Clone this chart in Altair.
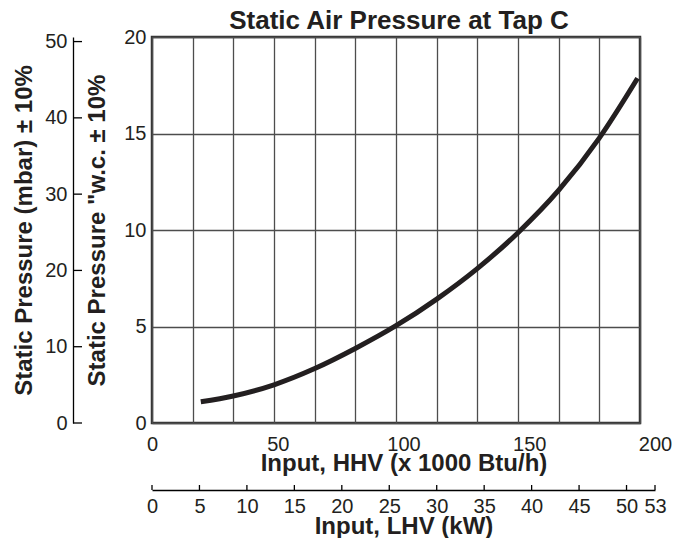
import altair as alt
import pandas as pd

# ---- data ----
hhv = [20, 33.3, 50, 66.7, 83.3, 100, 116.7, 133.3, 150, 166.7, 183.3, 199]
wc = [1.10, 1.40, 1.98, 2.82, 3.86, 5.04, 6.42, 8.00, 9.86, 12.06, 14.76, 17.86]

wc_ticks = [0, 5, 10, 15, 20]
mbar_ticks = [0, 10, 20, 30, 40, 50]
hhv_ticks = [0, 50, 100, 150, 200]
hhv_grid = [0, 16.67, 33.33, 50, 66.67, 83.33, 100, 116.67, 133.33, 150, 166.67, 183.33, 200]
lhv_ticks = [0, 5, 10, 15, 20, 25, 30, 35, 40, 45, 50, 53]

W, H = 488, 386
FONT = "Liberation Sans"
INK = "#231f20"

curve_df = pd.DataFrame({"hhv": hhv, "wc": wc})
mbar_df = pd.DataFrame({"mbar": mbar_ticks})
hhv_df = pd.DataFrame({"hhv_t": hhv_ticks})
lhv_df = pd.DataFrame({"kw": lhv_ticks})

line = alt.Chart(curve_df).mark_line(
    color=INK, strokeWidth=5, interpolate="monotone", strokeCap="butt"
).encode(
    x=alt.X("hhv:Q",
            scale=alt.Scale(domain=[0, 200], nice=False, zero=False),
            axis=alt.Axis(values=hhv_grid, grid=True, labels=False, ticks=False,
                          domain=False, title=None, gridColor="#4d4d4d",
                          gridWidth=1.3, gridOpacity=1)),
    y=alt.Y("wc:Q",
            scale=alt.Scale(domain=[0, 20], nice=False),
            axis=alt.Axis(orient="left", values=wc_ticks, grid=True, ticks=False,
                          tickSize=0, domain=False, labelPadding=6,
                          gridColor="#4d4d4d", gridWidth=1.3, gridOpacity=1,
                          title='Static Pressure "w.c. ± 10%', titlePadding=14)),
)

mbar_layer = alt.Chart(mbar_df).mark_rule(color="black", strokeWidth=1.3).encode(
    x=alt.value(-79), x2=alt.value(-70),
    y=alt.Y("mbar:Q",
            scale=alt.Scale(domain=[0, 50.6], nice=False),
            axis=alt.Axis(orient="left", offset=79, values=mbar_ticks, ticks=False,
                          tickSize=0, domain=True, domainColor="black",
                          domainWidth=1.3, grid=False, labelPadding=6,
                          title="Static Pressure (mbar) ± 10%", titlePadding=8)),
)

hhv_layer = alt.Chart(hhv_df).mark_tick(opacity=0).encode(
    x=alt.X("hhv_t:Q",
            scale=alt.Scale(domain=[0, 200], range=[0, 503], nice=False),
            axis=alt.Axis(orient="bottom", values=hhv_ticks, grid=False, ticks=False,
                          tickSize=0, domain=False, labelPadding=11,
                          title="Input, HHV (x 1000 Btu/h)", titlePadding=-3)),
)

lhv_layer = alt.Chart(lhv_df).mark_rule(color="black", strokeWidth=1.3).encode(
    x=alt.X("kw:Q",
            scale=alt.Scale(domain=[0, 53], range=[0, 503], nice=False, zero=False),
            axis=alt.Axis(orient="bottom", offset=67, values=lhv_ticks, grid=False,
                          ticks=False, tickSize=0, domain=True, domainColor="black",
                          domainWidth=1.5, labelPadding=6,
                          title="Input, LHV (kW)", titlePadding=-2)),
    y=alt.value(H + 62), y2=alt.value(H + 67),
)

chart = alt.layer(line, mbar_layer, hhv_layer, lhv_layer).resolve_scale(
    x="independent", y="independent"
).properties(
    width=W, height=H,
    title=alt.Title("Static Air Pressure at Tap C", fontSize=26, fontWeight="bold",
                    font=FONT, color=INK, anchor="middle", offset=-7, dx=3),
    padding={"left": 4, "top": 0, "right": 5, "bottom": 0},
).configure_view(
    stroke="#333333", strokeWidth=2.5
).configure_axis(
    labelFont=FONT, labelFontSize=20, labelColor=INK,
    titleFont=FONT, titleFontSize=24, titleFontWeight="bold", titleColor=INK,
    labelFlush=False, labelOverlap=False
)

chart.save("out.html", embed_options={"renderer": "svg", "actions": False})
